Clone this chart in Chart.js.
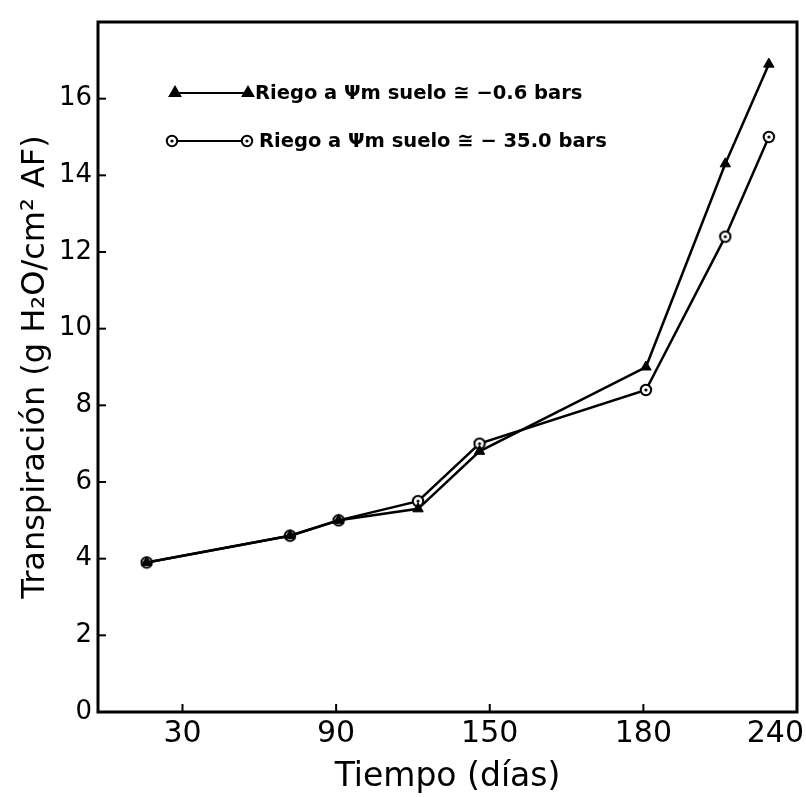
<!DOCTYPE html>
<html><head><meta charset="utf-8">
<script src="https://cdn.jsdelivr.net/npm/chart.js@4/dist/chart.umd.min.js"></script>
<style>html,body{margin:0;padding:0;background:#fff}#wrap{width:806px;height:797px}</style>
</head><body><div id="wrap"><canvas id="c" width="806" height="797"></canvas></div>
<script>
// ---- data ----
const xTickDays = [30, 90, 150, 180, 240];
const xTickLabels = ['30', '90', '150', '180', '240'];
const yTicks = [0, 2, 4, 6, 8, 10, 12, 14, 16];
const days = [16, 72, 91, 122, 146, 181, 212, 229];
const riego06 = [3.9, 4.6, 5.0, 5.3, 6.8, 9.0, 14.3, 16.9];
const riego35 = [3.9, 4.6, 5.0, 5.5, 7.0, 8.4, 12.4, 15.0];
const seriesNames = ['Riego a \u03A8m suelo \u2245 \u22120.6 bars', 'Riego a \u03A8m suelo \u2245 \u2212 35.0 bars'];
const xTitle = 'Tiempo (d\u00EDas)';
const yTitle = 'Transpiraci\u00F3n (g H\u2082O/cm\u00B2 AF)';

// the printed time axis is not linear: its ticks are evenly spaced
function dayToPos(d) {
  for (let i = 0; i < xTickDays.length - 1; i++) {
    if (d <= xTickDays[i + 1] || i === xTickDays.length - 2) {
      return i + (d - xTickDays[i]) / (xTickDays[i + 1] - xTickDays[i]);
    }
  }
}

function ring() {
  const c = document.createElement('canvas');
  c.width = 14; c.height = 14;
  const g = c.getContext('2d');
  g.fillStyle = '#fff'; g.strokeStyle = '#000'; g.lineWidth = 2;
  g.beginPath(); g.arc(7, 7, 5.2, 0, 2 * Math.PI); g.fill(); g.stroke();
  g.fillStyle = '#000';
  g.beginPath(); g.arc(7, 7, 1.6, 0, 2 * Math.PI); g.fill();
  return c;
}
const ringImg = ring();

const FONT = '"DejaVu Sans", sans-serif';

const deco = {
  id: 'deco',
  afterDraw(chart) {
    const {ctx, chartArea: a, scales: {x, y}} = chart;
    ctx.save();
    ctx.strokeStyle = '#000'; ctx.fillStyle = '#000';
    ctx.lineWidth = 3;
    ctx.strokeRect(a.left, a.top, a.right - a.left, a.bottom - a.top);
    ctx.lineWidth = 2;
    yTicks.forEach(v => {
      if (v === 0) return;
      const py = y.getPixelForValue(v);
      ctx.beginPath(); ctx.moveTo(a.left, py); ctx.lineTo(a.left + 8, py); ctx.stroke();
    });
    xTickDays.forEach(d => {
      const px = x.getPixelForValue(dayToPos(d));
      ctx.beginPath(); ctx.moveTo(px, a.bottom); ctx.lineTo(px, a.bottom - 8); ctx.stroke();
    });
    ctx.font = '30px ' + FONT;
    ctx.textBaseline = 'top'; ctx.textAlign = 'center';
    xTickDays.forEach((d, i) => {
      let px = x.getPixelForValue(dayToPos(d));
      const w = ctx.measureText(xTickLabels[i]).width;
      if (px + w / 2 > chart.width - 2) px = chart.width - 2 - w / 2;
      ctx.fillText(xTickLabels[i], px, a.bottom + 7);
    });
    // legend
    const rows = [
      {ds: 0, x0: a.left + 77, x1: a.left + 150, y: a.top + 71, tx: a.left + 157},
      {ds: 1, x0: a.left + 74, x1: a.left + 149, y: a.top + 119, tx: a.left + 161}
    ];
    ctx.font = 'bold 19.5px ' + FONT;
    ctx.textAlign = 'left'; ctx.textBaseline = 'alphabetic';
    rows.forEach(r => {
      const ds = chart.data.datasets[r.ds];
      ctx.lineWidth = 2; ctx.strokeStyle = '#000';
      ctx.beginPath(); ctx.moveTo(r.x0, r.y); ctx.lineTo(r.x1, r.y); ctx.stroke();
      [r.x0, r.x1].forEach(px => {
        ctx.fillStyle = ds.pointBackgroundColor; ctx.strokeStyle = ds.pointBorderColor;
        Chart.helpers.drawPoint(ctx, {pointStyle: ds.pointStyle, radius: ds.pointRadius, borderWidth: ds.pointBorderWidth, rotation: 0}, px, r.y);
      });
      ctx.fillStyle = '#000';
      ctx.fillText(seriesNames[r.ds], r.tx, r.y + 6);
    });
    ctx.restore();
  }
};

new Chart(document.getElementById('c'), {
  type: 'line',
  data: {
    datasets: [
      {
        label: seriesNames[0],
        data: days.map((d, i) => ({x: dayToPos(d), y: riego06[i]})),
        borderColor: '#000', borderWidth: 2.5,
        pointStyle: 'triangle', pointRadius: 6,
        pointBackgroundColor: '#000', pointBorderColor: '#000', pointBorderWidth: 1,
        tension: 0, order: 0
      },
      {
        label: seriesNames[1],
        data: days.map((d, i) => ({x: dayToPos(d), y: riego35[i]})),
        borderColor: '#000', borderWidth: 2.5,
        pointStyle: ringImg, pointRadius: 6,
        pointBackgroundColor: '#fff', pointBorderColor: '#000', pointBorderWidth: 2,
        tension: 0, order: 1
      }
    ]
  },
  options: {
    responsive: false,
    animation: false,
    events: [],
    layout: {padding: {top: 22, right: 9, left: 0, bottom: 0}},
    plugins: {legend: {display: false}, tooltip: {enabled: false}},
    scales: {
      x: {
        type: 'linear',
        min: -0.55, max: 4,
        grid: {display: false}, border: {display: false},
        ticks: {display: false},
        afterBuildTicks: s => { s.ticks = xTickDays.map(d => ({value: dayToPos(d)})); },
        afterFit: s => { s.height = 85; },
        title: {display: true, text: xTitle, color: '#000', font: {family: FONT, size: 33}, padding: {top: 0, bottom: 0}}
      },
      y: {
        type: 'linear',
        min: 0, max: 18,
        grid: {display: false, drawTicks: false}, border: {display: false},
        ticks: {color: '#000', font: {family: FONT, size: 26}, padding: 6},
        afterBuildTicks: s => { s.ticks = yTicks.map(v => ({value: v})); },
        afterFit: s => { s.width = 98; },
        title: {display: true, text: yTitle, color: '#000', font: {family: FONT, size: 32}, padding: {top: 16, bottom: 0}}
      }
    }
  },
  plugins: [deco]
});
</script>
</body></html>
